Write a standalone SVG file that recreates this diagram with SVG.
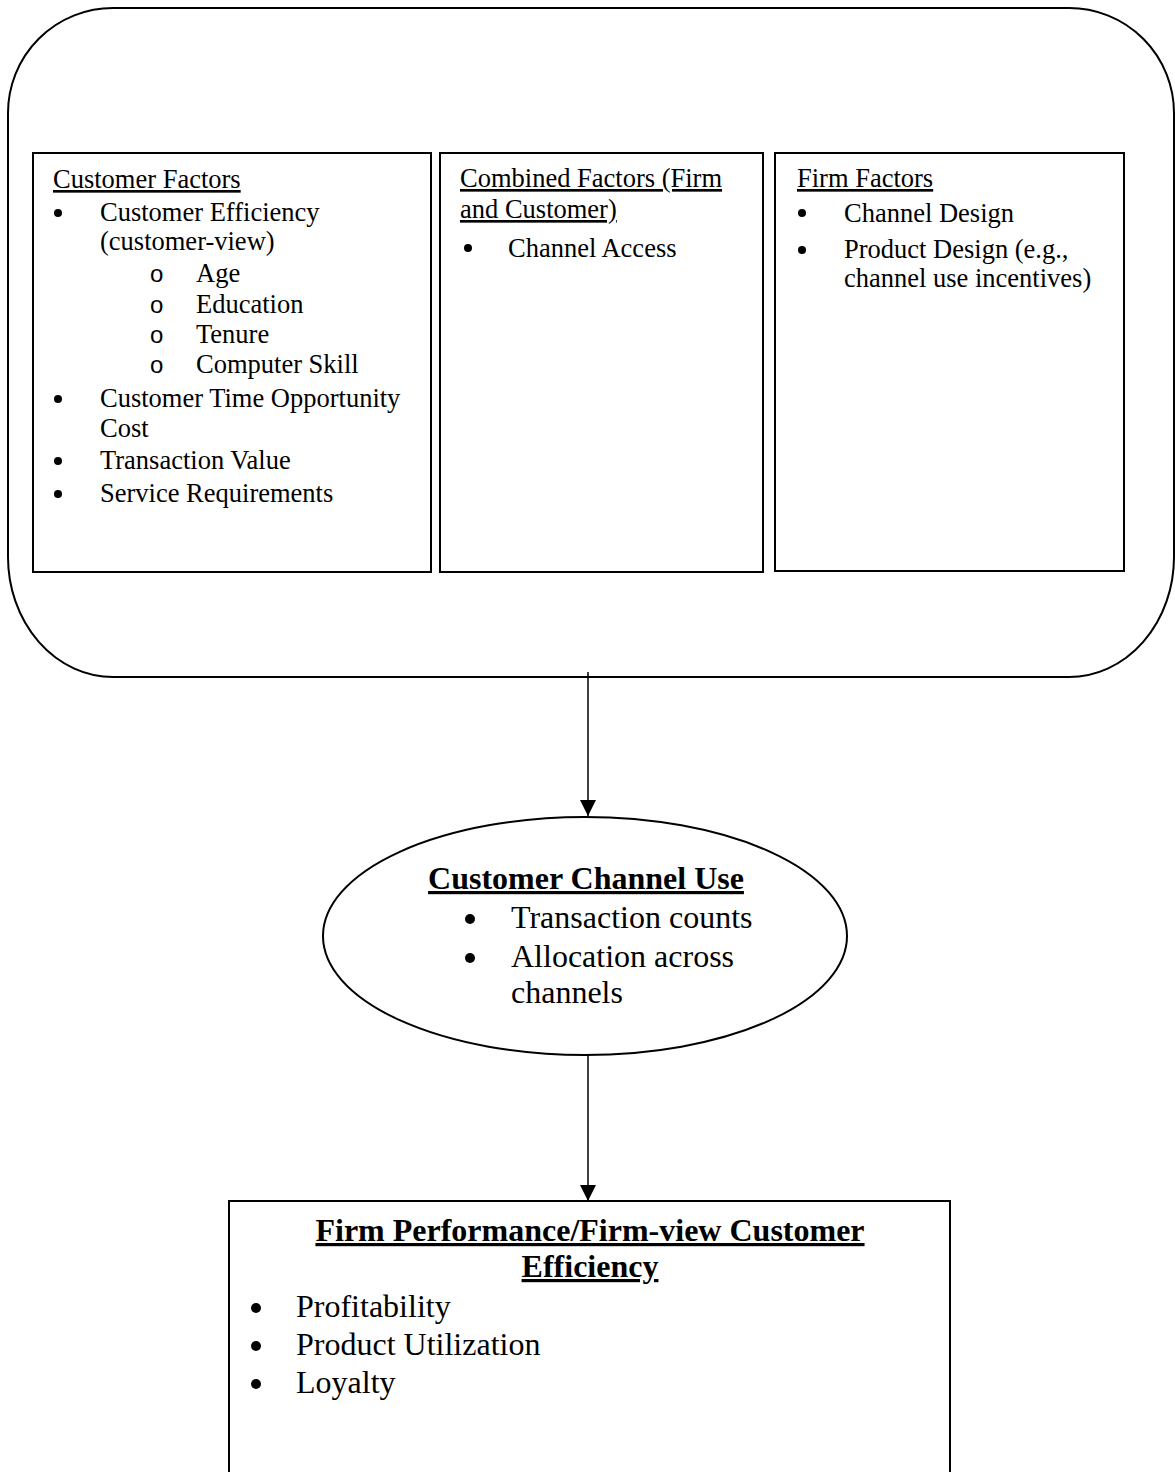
<svg xmlns="http://www.w3.org/2000/svg" width="1175" height="1472" viewBox="0 0 1175 1472">
<defs>
<style>
.box{fill:#fff;stroke:#000;stroke-width:2}
.t{font-family:"Liberation Serif","Times New Roman",serif;font-size:26.5px;fill:#000}
.tl{font-family:"Liberation Serif","Times New Roman",serif;font-size:32px;fill:#000}
.tb{font-family:"Liberation Serif","Times New Roman",serif;font-size:32px;font-weight:bold;fill:#000;text-decoration:underline}
.u{text-decoration:underline}
.o{font-family:"Liberation Sans",Arial,sans-serif;font-size:24px;fill:#000}
.b{fill:#000}
.c{stroke:#000;stroke-width:1.5;fill:none}
</style>
<marker id="ah" viewBox="0 0 16 16" refX="16" refY="8" markerWidth="16" markerHeight="16" markerUnits="userSpaceOnUse" orient="auto">
<path d="M0,0 L16,8 L0,16 Z" fill="#000"/>
</marker>
</defs>
<rect width="1175" height="1472" fill="#fff"/>

<g id="outer">
<path class="box" d="M113,8 H1069 A105,105 0 0 1 1174,113 V557 A105,120 0 0 1 1069,677 H113 A105,120 0 0 1 8,557 V113 A105,105 0 0 1 113,8 Z"/>
</g>

<g id="customer-factors">
<rect class="box" x="33" y="153" width="398" height="419"/>
<text class="t u" x="53" y="188">Customer Factors</text>
<circle class="b" cx="58" cy="213" r="4"/>
<text class="t" x="100" y="221">Customer Efficiency</text>
<text class="t" x="100" y="250">(customer-view)</text>
<text class="o" x="150" y="282">o</text>
<text class="t" x="196" y="282">Age</text>
<text class="o" x="150" y="313">o</text>
<text class="t" x="196" y="313">Education</text>
<text class="o" x="150" y="343">o</text>
<text class="t" x="196" y="343">Tenure</text>
<text class="o" x="150" y="373">o</text>
<text class="t" x="196" y="373">Computer Skill</text>
<circle class="b" cx="58" cy="399" r="4"/>
<text class="t" x="100" y="407">Customer Time Opportunity</text>
<text class="t" x="100" y="437">Cost</text>
<circle class="b" cx="58" cy="461" r="4"/>
<text class="t" x="100" y="469">Transaction Value</text>
<circle class="b" cx="58" cy="494" r="4"/>
<text class="t" x="100" y="502">Service Requirements</text>
</g>

<g id="combined-factors">
<rect class="box" x="440" y="153" width="323" height="419"/>
<text class="t u" x="460" y="187">Combined Factors (Firm</text>
<text class="t u" x="460" y="218">and Customer)</text>
<circle class="b" cx="468" cy="248" r="4"/>
<text class="t" x="508" y="257">Channel Access</text>
</g>

<g id="firm-factors">
<rect class="box" x="775" y="153" width="349" height="418"/>
<text class="t u" x="797" y="187">Firm Factors</text>
<circle class="b" cx="802" cy="213" r="4"/>
<text class="t" x="844" y="222">Channel Design</text>
<circle class="b" cx="802" cy="250" r="4"/>
<text class="t" x="844" y="258">Product Design (e.g.,</text>
<text class="t" x="844" y="287">channel use incentives)</text>
</g>

<g id="connectors">
<line class="c" x1="588" y1="672" x2="588" y2="816" marker-end="url(#ah)"/>
<line class="c" x1="588" y1="1055" x2="588" y2="1201" marker-end="url(#ah)"/>
</g>

<g id="channel-use">
<ellipse class="box" cx="585" cy="936" rx="262" ry="119"/>
<text class="tb" x="586" y="889" text-anchor="middle">Customer Channel Use</text>
<circle class="b" cx="470" cy="919" r="5"/>
<text class="tl" x="511" y="928">Transaction counts</text>
<circle class="b" cx="470" cy="958" r="5"/>
<text class="tl" x="511" y="967">Allocation across</text>
<text class="tl" x="511" y="1003">channels</text>
</g>

<g id="firm-performance">
<rect class="box" x="229" y="1201" width="721" height="300"/>
<text class="tb" x="590" y="1241" text-anchor="middle">Firm Performance/Firm-view Customer</text>
<text class="tb" x="590" y="1277" text-anchor="middle">Efficiency</text>
<circle class="b" cx="256" cy="1308" r="5"/>
<text class="tl" x="296" y="1317">Profitability</text>
<circle class="b" cx="256" cy="1346" r="5"/>
<text class="tl" x="296" y="1355">Product Utilization</text>
<circle class="b" cx="256" cy="1384" r="5"/>
<text class="tl" x="296" y="1393">Loyalty</text>
</g>
</svg>
